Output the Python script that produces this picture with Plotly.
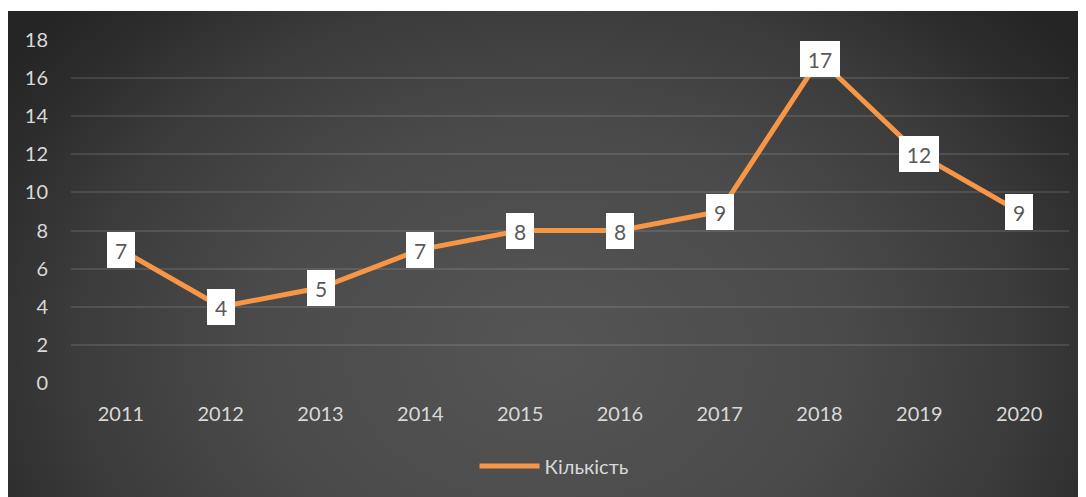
import base64
import plotly.graph_objects as go

years = ["2011", "2012", "2013", "2014", "2015", "2016", "2017", "2018", "2019", "2020"]
counts = [7, 4, 5, 7, 8, 8, 9, 17, 12, 9]
series_name = "Кількість"
y_ticks = [0, 2, 4, 6, 8, 10, 12, 14, 16, 18]

# page body has an 8px margin, so the figure is placed at (8, 8)
W, H = 1078, 489
ML, MR, MT, MB = 63, 17, 32, 114
PW, PH = W - ML - MR, H - MT - MB
BG_X0, BG_Y0 = -1, 3

# background gradient (radial, dark grey)
bgw, bgh = W - BG_X0, H - BG_Y0
svg = f'''<svg xmlns="http://www.w3.org/2000/svg" width="{bgw}" height="{bgh}" viewBox="0 0 {bgw} {bgh}">
<defs><radialGradient id="g" gradientUnits="userSpaceOnUse" cx="0" cy="0" r="1"
 gradientTransform="translate(540 340) scale(660 500)">
<stop offset="0" stop-color="#555555"/>
<stop offset="0.45" stop-color="#4a4a4a"/>
<stop offset="0.72" stop-color="#3b3b3b"/>
<stop offset="0.88" stop-color="#2d2d2d"/>
<stop offset="1" stop-color="#252525"/>
</radialGradient></defs>
<rect x="0" y="0" width="{bgw}" height="{bgh}" fill="url(#g)"/>
</svg>'''
src = "data:image/svg+xml;base64," + base64.b64encode(svg.encode()).decode()

font_family = "Lato, 'Open Sans', sans-serif"

fig = go.Figure()
fig.add_trace(go.Scatter(
    x=years, y=counts, mode="lines", name=series_name,
    line=dict(color="#F79646", width=5),
    hoverinfo="skip",
))

annotations = []
for i, v in enumerate(counts):
    t = str(v)
    annotations.append(dict(
        x=i, y=v, xref="x", yref="y", text=t, showarrow=False,
        font=dict(family=font_family, size=21, color="#595959"),
        bgcolor="#ffffff", borderwidth=0, borderpad=1,
        width=26 if len(t) == 1 else 38, height=34,
        xanchor="center", yanchor="middle",
    ))

fig.update_layout(
    width=W, height=H,
    margin=dict(l=ML, r=MR, t=MT, b=MB, autoexpand=False),
    paper_bgcolor="#ffffff",
    plot_bgcolor="rgba(0,0,0,0)",
    font=dict(family=font_family, color="#d9d9d9", size=20),
    showlegend=True,
    legend=dict(
        orientation="h", x=0.484, xanchor="center", y=(H - MB - 458) / PH, yanchor="middle",
        font=dict(family=font_family, size=20, color="#d9d9d9"),
        bgcolor="rgba(0,0,0,0)", itemwidth=60,
    ),
    images=[dict(
        source=src, xref="paper", yref="paper",
        x=(BG_X0 - ML) / PW, y=(H - MB - BG_Y0) / PH,
        sizex=bgw / PW, sizey=bgh / PH,
        xanchor="left", yanchor="top", sizing="stretch", layer="below",
    )],
    annotations=annotations,
    xaxis=dict(
        type="category", categoryorder="array", categoryarray=years,
        range=[-0.5, len(years) - 0.5], autorange=False,
        showgrid=False, showline=False, zeroline=False,
        ticks="", ticklabelstandoff=17,
        tickfont=dict(family=font_family, size=20, color="#d9d9d9"),
    ),
    yaxis=dict(
        range=[0, 18], autorange=False, tickvals=y_ticks, showline=False, zeroline=False,
        showgrid=True, gridcolor="rgba(255,255,255,0.11)", gridwidth=2,
        ticks="", ticklabelstandoff=22,
        tickfont=dict(family=font_family, size=20, color="#d9d9d9"),
    ),
)

fig.write_html("out.html")
